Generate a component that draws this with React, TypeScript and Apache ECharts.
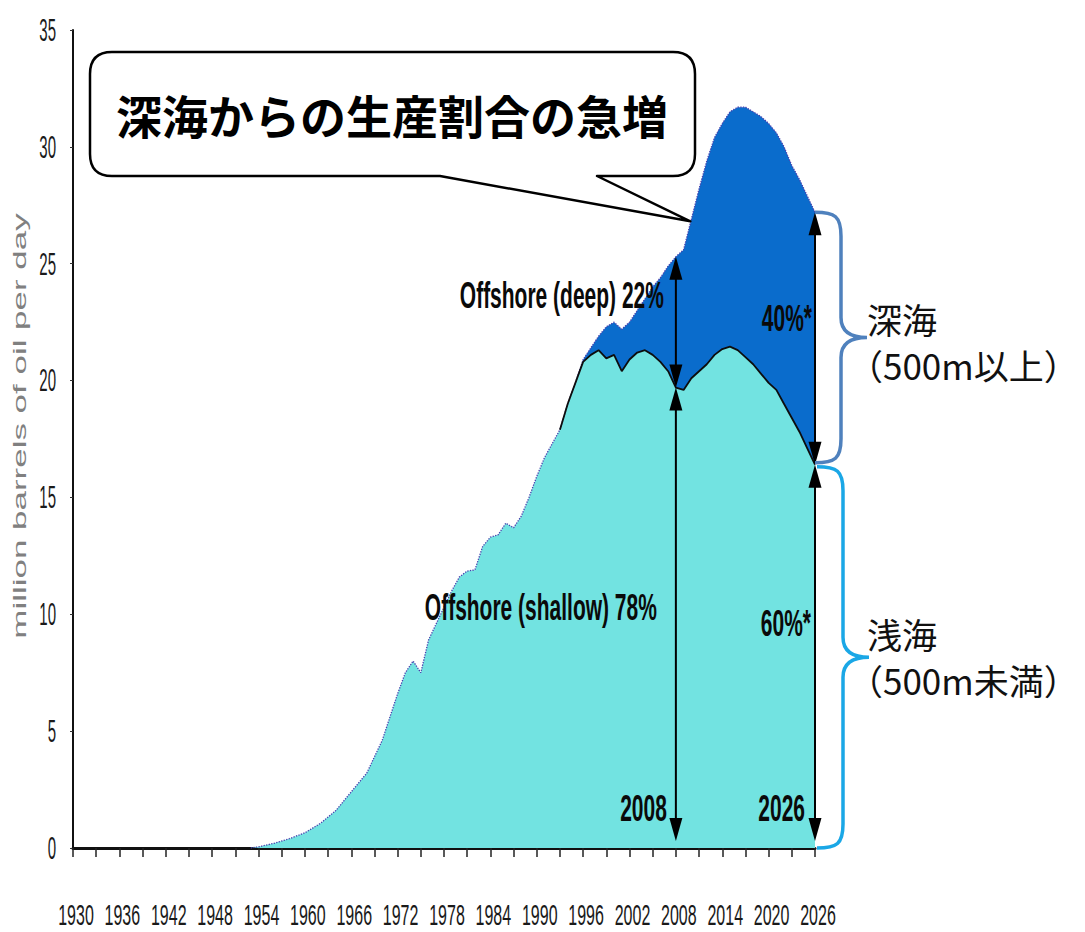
import { useEffect, useRef } from 'react';
import * as echarts from 'echarts';

// Category axis: one slot per year, 1930–2026
const FIRST_YEAR = 1930;
const LAST_YEAR = 2026;
const axisYears: string[] = [];
for (let y = FIRST_YEAR; y <= LAST_YEAR; y++) axisYears.push(String(y));

// Tick labels
const xTickLabels = ['1930', '1936', '1942', '1948', '1954', '1960', '1966', '1972', '1978', '1984', '1990', '1996', '2002', '2008', '2014', '2020', '2026'];
const yTickValues = [0, 5, 10, 15, 20, 25, 30, 35];

// Offshore oil production, million barrels per day
const dataYears = [
  '1953', '1954', '1956', '1958', '1960', '1962', '1964', '1966', '1968',
  '1970', '1971', '1972', '1973', '1974', '1975', '1976', '1977', '1978', '1979',
  '1980', '1981', '1982', '1983', '1984', '1985', '1986', '1987', '1988', '1989',
  '1990', '1991', '1992', '1993', '1994', '1995', '1996', '1997', '1998', '1999',
  '2000', '2001', '2002', '2003', '2004', '2005', '2006', '2007', '2008', '2009',
  '2010', '2011', '2012', '2013', '2014', '2015', '2016', '2017', '2018', '2019',
  '2020', '2021', '2022', '2023', '2024', '2025', '2026',
];
const shallowProd = [
  0, 0.05, 0.2, 0.4, 0.65, 1.05, 1.6, 2.4, 3.2,
  4.6, 5.6, 6.6, 7.5, 8.0, 7.5, 8.9, 9.6, 10.3, 11.0,
  11.6, 11.85, 11.9, 12.9, 13.3, 13.4, 13.9, 13.7, 14.2, 15.0,
  15.9, 16.7, 17.3, 17.9, 19.0, 19.9, 20.8, 21.1, 21.3, 20.95,
  21.1, 20.4, 20.9, 21.2, 21.3, 21.1, 20.8, 20.4, 19.7, 19.6,
  20.1, 20.4, 20.7, 21.1, 21.35, 21.45, 21.3, 21.0, 20.7, 20.3,
  19.9, 19.6, 19.0, 18.4, 17.8, 17.1, 16.4,
];
const deepProd = [
  0, 0, 0, 0, 0, 0, 0, 0, 0,
  0, 0, 0, 0, 0, 0, 0, 0, 0, 0,
  0, 0, 0, 0, 0, 0, 0, 0, 0, 0,
  0, 0, 0, 0, 0, 0, 0.1, 0.3, 0.6, 1.35,
  1.4, 1.8, 1.6, 1.8, 2.2, 2.9, 3.6, 4.5, 5.6, 6.0,
  6.8, 7.8, 8.7, 9.3, 9.65, 10.05, 10.4, 10.7, 10.8, 11.0,
  11.1, 11.0, 11.0, 10.8, 10.8, 10.8, 10.8,
];

// Years marked with share arrows
const arrowYears = ['2008', '2026'];
const calloutYear = '2010';

const TITLE_FONT = "'Noto Sans CJK JP', 'Noto Sans', sans-serif";
const AXIS_FONT = "'Liberation Sans', Arial, sans-serif";

function bracePath(xa: number, yTop: number, yBot: number): string {
  const xb = xa + 26;
  const xt = xb + 26;
  const yMid = (yTop + yBot) / 2;
  return [
    `M${xa},${yTop}`,
    `C${xa + 20},${yTop} ${xb},${yTop + 4} ${xb},${yTop + 24}`,
    `L${xb},${yMid - 20}`,
    `C${xb},${yMid - 6} ${xb + 10},${yMid} ${xt},${yMid}`,
    `C${xb + 10},${yMid} ${xb},${yMid + 6} ${xb},${yMid + 20}`,
    `L${xb},${yBot - 24}`,
    `C${xb},${yBot - 4} ${xa + 20},${yBot} ${xa},${yBot}`,
  ].join(' ');
}

export default function App() {
  const ref = useRef<HTMLDivElement>(null);

  useEffect(() => {
    const el = ref.current;
    if (!el) return;
    const chart = echarts.init(el, null, { renderer: 'svg' });

    const shallowData = dataYears.map((y, i) => [y, shallowProd[i]]);
    const deepData = dataYears.map((y, i) => [y, deepProd[i]]);
    const edgeData = shallowData.filter((d) => Number(d[0]) >= 1993);
    const at = (y: string) => dataYears.indexOf(y);

    const arrowData: (string | number)[][] = [];
    arrowYears.forEach((y) => {
      const i = at(y);
      const s = shallowProd[i];
      const t = s + deepProd[i];
      arrowData.push([y, s, t]);
      arrowData.push([y, 0, s]);
    });

    chart.setOption({
      animation: false,
      grid: { left: 73, right: 270, top: 30, bottom: 84, outerBoundsMode: 'none' },
      xAxis: {
        type: 'category',
        data: axisYears,
        boundaryGap: false,
        axisLine: { lineStyle: { color: '#111', width: 3 } },
        axisTick: { interval: 2, length: 9, lineStyle: { color: '#222', width: 1.5 } },
        axisLabel: { show: false },
        splitLine: { show: false },
      },
      yAxis: {
        type: 'value',
        min: 0,
        max: 35,
        interval: 5,
        axisLine: { show: true, lineStyle: { color: '#111', width: 2 } },
        axisTick: { show: true, length: 3, lineStyle: { color: '#333', width: 1 } },
        axisLabel: { show: false },
        splitLine: { show: false },
      },
      series: [
        {
          type: 'line',
          name: 'Offshore (shallow)',
          stack: 'oil',
          data: shallowData,
          symbol: 'none',
          lineStyle: { width: 0 },
          areaStyle: { color: '#72e3e1', opacity: 1 },
          z: 2,
        },
        {
          type: 'line',
          name: 'Offshore (deep)',
          stack: 'oil',
          data: deepData,
          symbol: 'none',
          lineStyle: { width: 1.3, color: '#4b3fae', type: 'dotted' },
          areaStyle: { color: '#0a6ccc', opacity: 1 },
          z: 3,
        },
        {
          type: 'line',
          name: 'shallow edge',
          data: edgeData,
          symbol: 'none',
          lineStyle: { width: 1.8, color: '#0d0d0d' },
          z: 4,
        },
        {
          type: 'custom',
          name: 'share arrows',
          data: arrowData,
          encode: { x: 0, y: [1, 2] },
          z: 6,
          renderItem: (_params: any, api: any) => {
            const xi = api.value(0);
            const lo = api.value(1);
            const hi = api.value(2);
            const pLo = api.coord([xi, lo]);
            const pHi = api.coord([xi, hi]);
            const x = pLo[0];
            const yb = pLo[1] - (lo === 0 ? 7 : 0);
            const yt = pHi[1];
            const hw = 6.5;
            const hl = 23;
            return {
              type: 'group',
              children: [
                {
                  type: 'line',
                  shape: { x1: x, y1: yt + hl - 2, x2: x, y2: yb - hl + 2 },
                  style: { stroke: '#000', lineWidth: 2 },
                },
                {
                  type: 'polygon',
                  shape: { points: [[x, yt], [x - hw, yt + hl], [x + hw, yt + hl]] },
                  style: { fill: '#000' },
                },
                {
                  type: 'polygon',
                  shape: { points: [[x, yb], [x - hw, yb - hl], [x + hw, yb - hl]] },
                  style: { fill: '#000' },
                },
              ],
            };
          },
        },
      ],
    });

    // Pixel helpers from the grid's own scales
    const toPx = (year: string, v: number): number[] =>
      chart.convertToPixel({ gridIndex: 0 }, [axisYears.indexOf(year), v]) as number[];

    const graphics: any[] = [];

    // Y tick labels (tall, narrow digits)
    yTickValues.forEach((v) => {
      const p = toPx('1930', v);
      graphics.push({
        type: 'text',
        x: 56,
        y: p[1],
        scaleY: 2.1,
        z: 100,
        style: {
          text: String(v),
          fontSize: 15,
          fontFamily: AXIS_FONT,
          fill: '#1a1a1a',
          align: 'right',
          verticalAlign: 'middle',
        },
      });
    });

    // X tick labels
    xTickLabels.forEach((y) => {
      const p = toPx(y, 0);
      graphics.push({
        type: 'text',
        x: p[0] + 3,
        y: p[1] + 66,
        scaleY: 1.85,
        z: 100,
        style: {
          text: y,
          fontSize: 16,
          fontFamily: AXIS_FONT,
          fill: '#1a1a1a',
          align: 'center',
          verticalAlign: 'middle',
        },
      });
    });

    // Y axis title
    graphics.push({
      type: 'text',
      x: 20,
      y: 426,
      rotation: Math.PI / 2,
      scaleX: 1.84,
      z: 100,
      style: {
        text: 'million barrels of oil per day',
        fontSize: 19,
        fontFamily: AXIS_FONT,
        fill: '#808080',
        align: 'center',
        verticalAlign: 'middle',
      },
    });

    // Share annotations next to the arrows
    const x2008 = toPx('2008', 0)[0];
    const x2026 = toPx('2026', 0)[0];
    const bold = (text: string, x: number, y: number) => ({
      type: 'text',
      x,
      y,
      scaleY: 1.75,
      z: 100,
      style: {
        text,
        fontSize: 21,
        fontWeight: 'bold',
        fontFamily: AXIS_FONT,
        fill: '#0a0a0a',
        align: 'right',
        verticalAlign: 'middle',
      },
    });
    graphics.push(bold('Offshore (deep) 22%', x2008 - 12, 295));
    graphics.push(bold('Offshore (shallow) 78%', x2008 - 19, 607));
    graphics.push(bold('40%*', x2026 - 3, 318));
    graphics.push(bold('60%*', x2026 - 4, 623));
    graphics.push(bold('2008', x2008 - 9, 808));
    graphics.push(bold('2026', x2026 - 10, 808));

    // Speech-bubble callout pointing at the deep-water surge
    const ci = at(calloutYear);
    const tip = toPx(calloutYear, shallowProd[ci] + deepProd[ci]);
    const calloutD =
      `M112,52 H673 Q695,52 695,74 V154 Q695,176 673,176 H597 ` +
      `L${tip[0] - 1},${tip[1] + 2} L440,176 H112 Q90,176 90,154 V74 Q90,52 112,52 Z`;
    echarts.graphic.registerShape('calloutBubble', echarts.graphic.extendPath(calloutD, {}) as any);
    graphics.push({
      type: 'calloutBubble',
      x: 0,
      y: 0,
      z: 100,
      style: { fill: '#ffffff', stroke: '#000000', lineWidth: 2.5, lineJoin: 'round' },
    });
    graphics.push({
      type: 'text',
      x: 392,
      y: 114,
      z: 101,
      style: {
        text: '深海からの生産割合の急増',
        fontSize: 46,
        fontWeight: 'bold',
        fontFamily: TITLE_FONT,
        fill: '#000',
        align: 'center',
        verticalAlign: 'middle',
      },
    });

    // Braces grouping the 2026 shares
    const i26 = at('2026');
    const pTop = toPx('2026', shallowProd[i26] + deepProd[i26]);
    const pMid = toPx('2026', shallowProd[i26]);
    const pBot = toPx('2026', 0);
    const xa = pTop[0];
    echarts.graphic.registerShape(
      'braceDeep',
      echarts.graphic.extendPath(bracePath(xa, pTop[1], pMid[1] - 2), {}) as any
    );
    echarts.graphic.registerShape(
      'braceShallow',
      echarts.graphic.extendPath(bracePath(xa + 2, pMid[1] + 2, pBot[1]), {}) as any
    );
    graphics.push({
      type: 'braceDeep',
      z: 100,
      style: { fill: 'none', stroke: '#4f81bd', lineWidth: 3.5 },
    });
    graphics.push({
      type: 'braceShallow',
      z: 100,
      style: { fill: 'none', stroke: '#1aa7e6', lineWidth: 3.5 },
    });
    const deepMidY = (pTop[1] + pMid[1]) / 2;
    const shallowMidY = (pMid[1] + pBot[1]) / 2;
    const braceText = (text: string, x: number, y: number) => ({
      type: 'text',
      x,
      y,
      z: 100,
      style: {
        text,
        fontSize: 35,
        lineHeight: 38,
        fontFamily: TITLE_FONT,
        fill: '#111',
        align: 'left',
        verticalAlign: 'middle',
      },
    });
    graphics.push(braceText('深海', 867, deepMidY - 20));
    graphics.push(braceText('（500m以上）', 848, deepMidY + 26));
    graphics.push(braceText('浅海', 867, shallowMidY - 23));
    graphics.push(braceText('（500m未満）', 848, shallowMidY + 23));

    chart.setOption({ graphic: graphics });

    return () => {
      chart.dispose();
    };
  }, []);

  return (
    <div
      ref={ref}
      style={{ position: 'absolute', left: 0, top: 0, width: 1085, height: 932, background: '#ffffff' }}
    />
  );
}
